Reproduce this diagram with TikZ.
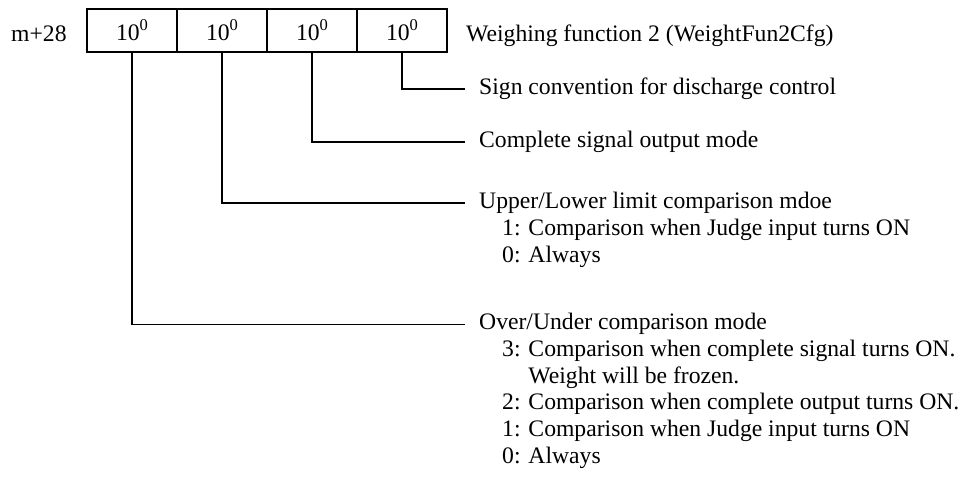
\documentclass[tikz,border=0pt]{standalone}
\usepackage{fontspec}
\setmainfont{Liberation Serif}
\newcommand{\mysup}[1]{\raisebox{0.42em}{\fontsize{16.5}{16.5}\selectfont #1}}
\begin{document}
\begin{tikzpicture}[x=1pt,y=-1pt,
  every node/.style={inner sep=0pt, font=\fontsize{23.65}{26.6}\selectfont},
  cell/.style={draw, line width=1.5pt, minimum width=90pt, minimum height=43pt, anchor=center},
  txt/.style={anchor=base west},
  conn/.style={draw, line width=1.5pt}]
\useasboundingbox (0,0) rectangle (967,489);
% register label
\node[txt] (reg) at (11,42) {m+28};
% cells
\node[cell] (c1) at (132,30.5) {10\mysup{0}};
\node[cell] (c2) at (222,30.5) {10\mysup{0}};
\node[cell] (c3) at (312,30.5) {10\mysup{0}};
\node[cell] (c4) at (402,30.5) {10\mysup{0}};
\node[txt] (title) at (466,42) {Weighing function 2 (WeightFun2Cfg)};
% descriptions
\node[txt] (d1) at (479,94.5) {Sign convention for discharge control};
\node[txt] (d2) at (479,147.5) {Complete signal output mode};
\node[txt] (d3) at (479,209) {Upper/Lower limit comparison mdoe};
\node[txt] (d3a) at (502,235.6) {1: Comparison when Judge input turns ON};
\node[txt] (d3b) at (502,262.2) {0: Always};
\node[txt] (d4) at (479,330) {Over/Under comparison mode};
\node[txt] (d4a) at (502,356.6) {3: Comparison when complete signal turns ON.};
\node[txt] (d4b) at (502,383.2) {\hphantom{3: }Weight will be frozen.};
\node[txt] (d4c) at (502,409.8) {2: Comparison when complete output turns ON.};
\node[txt] (d4d) at (502,436.4) {1: Comparison when Judge input turns ON};
\node[txt] (d4e) at (502,463) {0: Always};
% connector ends
\coordinate (e1) at (465,89);
\coordinate (e2) at (465,142);
\coordinate (e3) at (465,203);
\coordinate (e4) at (465,324.5);
\draw[conn] (c4.south) |- (e1);
\draw[conn] (c3.south) |- (e2);
\draw[conn] (c2.south) |- (e3);
\draw[conn] (c1.south) |- (e4);
\end{tikzpicture}
\end{document}
